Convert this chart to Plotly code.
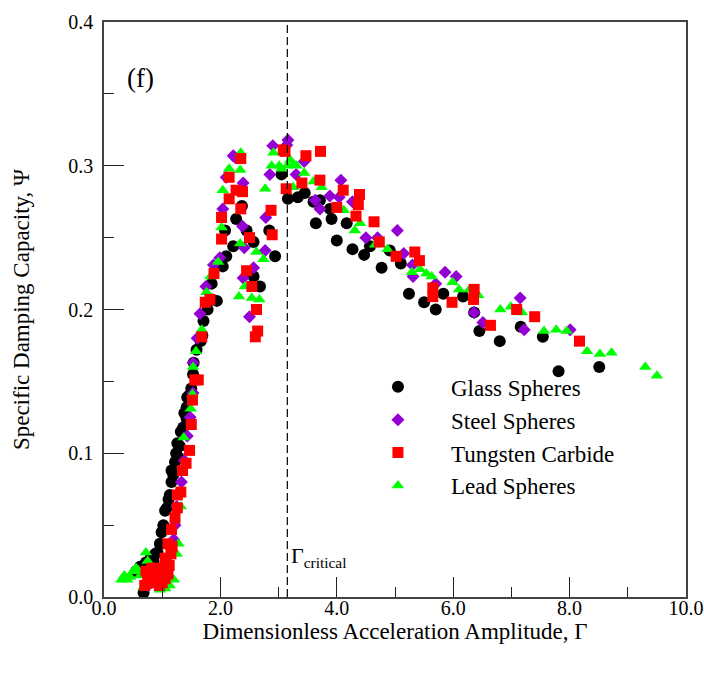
import plotly.graph_objects as go

# ---------------- data ----------------
glass_x = [0.68, 0.55, 0.62, 0.72, 0.80, 0.85, 0.88, 0.92, 0.96, 0.99, 1.02, 1.05, 1.08, 1.11, 1.13,
           1.16, 1.19, 1.16, 1.22, 1.24, 1.26, 1.28, 1.30, 1.32, 1.36, 1.38, 1.42, 1.42, 1.43, 1.46,
           1.50, 1.53, 1.54, 1.59, 1.66, 1.69, 1.71, 1.78, 1.85, 1.94, 1.85, 2.04, 2.10, 2.08, 2.22,
           2.27, 2.37, 2.45, 2.57, 2.57, 2.68, 2.84, 2.94, 3.05, 3.16, 3.33, 3.45, 3.60, 3.71, 3.64,
           3.88, 3.91, 4.00, 4.17, 4.27, 4.47, 4.57, 4.77, 4.91, 5.10, 5.24, 5.50, 5.70, 5.83, 6.17,
           6.36, 6.45, 6.80, 7.16, 7.54, 7.81, 8.51]
glass_y = [0.003, 0.018, 0.021, 0.024, 0.027, 0.025, 0.030, 0.031, 0.037, 0.045, 0.050, 0.060, 0.062, 0.068, 0.071,
           0.080, 0.085, 0.088, 0.094, 0.100, 0.107, 0.097, 0.105, 0.115, 0.118, 0.128, 0.124, 0.132, 0.139, 0.140,
           0.145, 0.155, 0.163, 0.172, 0.178, 0.182, 0.192, 0.200, 0.207, 0.206, 0.218, 0.230, 0.237, 0.255, 0.244,
           0.263, 0.272, 0.255, 0.247, 0.223, 0.216, 0.255, 0.237, 0.294, 0.277, 0.278, 0.281, 0.275, 0.276, 0.260,
           0.270, 0.263, 0.248, 0.260, 0.242, 0.238, 0.244, 0.229, 0.241, 0.232, 0.211, 0.205, 0.200, 0.211, 0.209,
           0.198, 0.185, 0.178, 0.188, 0.181, 0.157, 0.160]

steel_x = [0.75, 0.82, 0.90, 0.98, 1.05, 1.10, 1.15, 1.20, 1.22, 1.25, 1.30, 1.33, 1.38, 1.43, 1.48,
           1.53, 1.53, 1.60, 1.65, 1.75, 1.88, 1.99, 2.04, 2.10, 2.22, 2.25, 2.39, 2.38, 2.41, 2.39,
           2.50, 2.57, 2.77, 2.78, 2.85, 2.90, 3.14, 3.16, 3.30, 3.44, 3.63, 3.71, 3.88, 4.04, 4.07,
           4.27, 4.50, 4.70, 5.04, 5.15, 5.30, 5.31, 5.70, 5.86, 6.05, 6.36, 6.51, 7.15, 7.22, 8.01]
steel_y = [0.008, 0.010, 0.012, 0.015, 0.018, 0.022, 0.030, 0.040, 0.050, 0.063, 0.072, 0.080, 0.095, 0.112, 0.125,
           0.142, 0.163, 0.180, 0.197, 0.216, 0.231, 0.236, 0.270, 0.292, 0.307, 0.306, 0.288, 0.258, 0.243, 0.222,
           0.195, 0.229, 0.241, 0.264, 0.294, 0.314, 0.3145, 0.318, 0.294, 0.303, 0.276, 0.270, 0.279, 0.278, 0.290,
           0.275, 0.250, 0.250, 0.255, 0.239, 0.231, 0.223, 0.218, 0.226, 0.223, 0.198, 0.191, 0.208, 0.186, 0.186]

tungsten_x = [0.70, 0.75, 0.80, 0.85, 0.90, 0.95, 1.00, 1.05, 1.10, 0.72, 0.82, 0.92, 1.02, 1.12, 1.15,
              1.17, 1.05, 1.10, 1.16, 1.22, 1.26, 1.26, 1.32, 1.35, 1.41, 1.47, 1.50, 1.52, 1.56, 1.62,
              1.68, 1.74, 1.82, 1.89, 2.02, 2.02, 2.15, 2.15, 2.27, 2.38, 2.35, 2.35, 2.45, 2.50, 2.54,
              2.62, 2.64, 2.60, 2.87, 2.89, 3.08, 3.11, 3.13, 3.40, 3.47, 3.71, 3.72, 4.00, 4.11, 4.33,
              4.37, 4.39, 4.64, 4.73, 5.02, 5.34, 5.42, 5.65, 5.65, 5.98, 6.35, 6.36, 6.64, 7.09, 7.40,
              8.17]
tungsten_y = [0.008, 0.012, 0.010, 0.015, 0.012, 0.008, 0.010, 0.013, 0.016, 0.018, 0.020, 0.020, 0.020, 0.022, 0.030,
              0.035, 0.027, 0.037, 0.047, 0.055, 0.062, 0.071, 0.073, 0.088, 0.093, 0.102, 0.120, 0.137, 0.151, 0.151,
              0.181, 0.205, 0.207, 0.225, 0.249, 0.264, 0.277, 0.292, 0.283, 0.282, 0.270, 0.305, 0.227, 0.250, 0.216,
              0.200, 0.185, 0.181, 0.269, 0.252, 0.311, 0.310, 0.284, 0.288, 0.307, 0.290, 0.310, 0.271, 0.283, 0.265,
              0.273, 0.280, 0.261, 0.247, 0.237, 0.240, 0.234, 0.215, 0.209, 0.205, 0.207, 0.214, 0.189, 0.200, 0.195,
              0.178]

lead_x = [0.30, 0.35, 0.40, 0.45, 0.50, 0.55, 0.58, 0.62, 0.68, 0.72, 0.75, 0.79, 0.85, 0.96, 1.05,
          1.13, 1.20, 1.25, 1.28, 1.32, 1.37, 1.49, 1.52, 1.53, 1.58, 1.68, 1.76, 1.83, 1.96, 2.02,
          2.04, 2.15, 2.34, 2.35, 2.34, 2.32, 2.42, 2.54, 2.62, 2.67, 2.74, 2.77, 2.88, 2.91, 3.01,
          3.05, 3.15, 3.20, 3.26, 3.31, 3.25, 3.44, 3.60, 3.74, 4.12, 4.31, 4.40, 4.66, 4.87, 5.29,
          5.43, 5.54, 5.63, 5.99, 6.10, 6.28, 6.43, 6.81, 6.99, 7.18, 7.56, 7.77, 7.95, 8.30, 8.52,
          8.72, 9.30, 9.50]
lead_y = [0.012, 0.015, 0.012, 0.014, 0.018, 0.020, 0.019, 0.015, 0.007, 0.031, 0.025, 0.021, 0.010, 0.005, 0.006,
          0.008, 0.012, 0.030, 0.037, 0.063, 0.111, 0.131, 0.141, 0.160, 0.171, 0.186, 0.212, 0.223, 0.233, 0.257,
          0.283, 0.298, 0.297, 0.309, 0.246, 0.209, 0.216, 0.208, 0.240, 0.207, 0.235, 0.284, 0.300, 0.309, 0.300,
          0.298, 0.300, 0.304, 0.301, 0.300, 0.285, 0.295, 0.289, 0.285, 0.269, 0.255, 0.260, 0.245, 0.242, 0.226,
          0.228, 0.225, 0.223, 0.219, 0.214, 0.214, 0.210, 0.200, 0.202, 0.198, 0.185, 0.186, 0.185, 0.171, 0.169,
          0.170, 0.160, 0.154]

gamma_critical = 3.15
x_ticks = [0, 2, 4, 6, 8, 10]
x_tick_labels = ["0.0", "2.0", "4.0", "6.0", "8.0", "10.0"]
y_ticks = [0.0, 0.1, 0.2, 0.3, 0.4]
y_tick_labels = ["0.0", "0.1", "0.2", "0.3", "0.4"]

FONT = "Liberation Serif"

fig = go.Figure()

series = [
    ("Glass Spheres", glass_x, glass_y, "circle", "#000000", 12, 1),
    ("Steel Spheres", steel_x, steel_y, "diamond", "#9400D3", 10, 2),
    ("Lead Spheres", lead_x, lead_y, "triangle-up", "#00FF00", 11, 4),
    ("Tungsten Carbide", tungsten_x, tungsten_y, "square", "#FF0000", 11, 3),
]
for name, xs, ys, sym, col, sz, rank in series:
    fig.add_trace(go.Scatter(
        x=xs, y=ys, mode="markers", name=name,
        marker=dict(symbol=sym, color=col, size=sz, line=dict(width=0)),
        legendrank=rank,
    ))

# dashed critical line
fig.add_trace(go.Scatter(
    x=[gamma_critical, gamma_critical], y=[0, 0.4], mode="lines",
    line=dict(color="black", width=1.2, dash="8px,4px"), showlegend=False, hoverinfo="skip",
))

fig.add_annotation(x=gamma_critical, y=0.0, xref="x", yref="y",
                   text="Γ<sub>critical</sub>", showarrow=False,
                   xanchor="left", yanchor="bottom", xshift=2, yshift=24,
                   font=dict(family=FONT, size=22, color="black"))
fig.add_annotation(x=0.62, y=0.361, xref="x", yref="y", text="(f)", showarrow=False,
                   font=dict(family=FONT, size=27, color="black"))

axis_common = dict(
    showgrid=False, zeroline=False, showline=True, linecolor="#444444", linewidth=1.5,
    mirror=True, ticks="inside", tickcolor="#222222", tickwidth=1, ticklen=20,
    tickfont=dict(family=FONT, size=20, color="black"), ticklabeloverflow="allow",
)
fig.update_xaxes(**axis_common, range=[0, 10], tickvals=x_ticks, ticktext=x_tick_labels,
                 ticklabelstandoff=-8,
                 minor=dict(ticks="inside", dtick=1, ticklen=10, tickcolor="#222222"),
                 title=dict(text="Dimensionless Acceleration Amplitude, Γ",
                            font=dict(family=FONT, size=23, color="black"), standoff=0))
fig.update_yaxes(**axis_common, range=[0, 0.4], tickvals=y_ticks, ticktext=y_tick_labels,
                 ticklabelstandoff=5,
                 minor=dict(ticks="inside", dtick=0.05, ticklen=10, tickcolor="#222222"),
                 title=dict(text="Specific Damping Capacity, Ψ",
                            font=dict(family=FONT, size=23, color="black"), standoff=32))

fig.update_layout(
    width=704, height=673,
    margin=dict(l=104, r=18, t=22, b=76, autoexpand=False),
    paper_bgcolor="white", plot_bgcolor="white",
    showlegend=True,
    legend=dict(x=0.414, y=0.403, xanchor="left", yanchor="top",
                font=dict(family=FONT, size=23, color="black"),
                bgcolor="rgba(0,0,0,0)", itemwidth=96, tracegroupgap=0),
)

fig.write_html("out.html", config={"displayModeBar": False},
               post_script="document.body.style.margin='0px';document.body.style.overflow='hidden';")
